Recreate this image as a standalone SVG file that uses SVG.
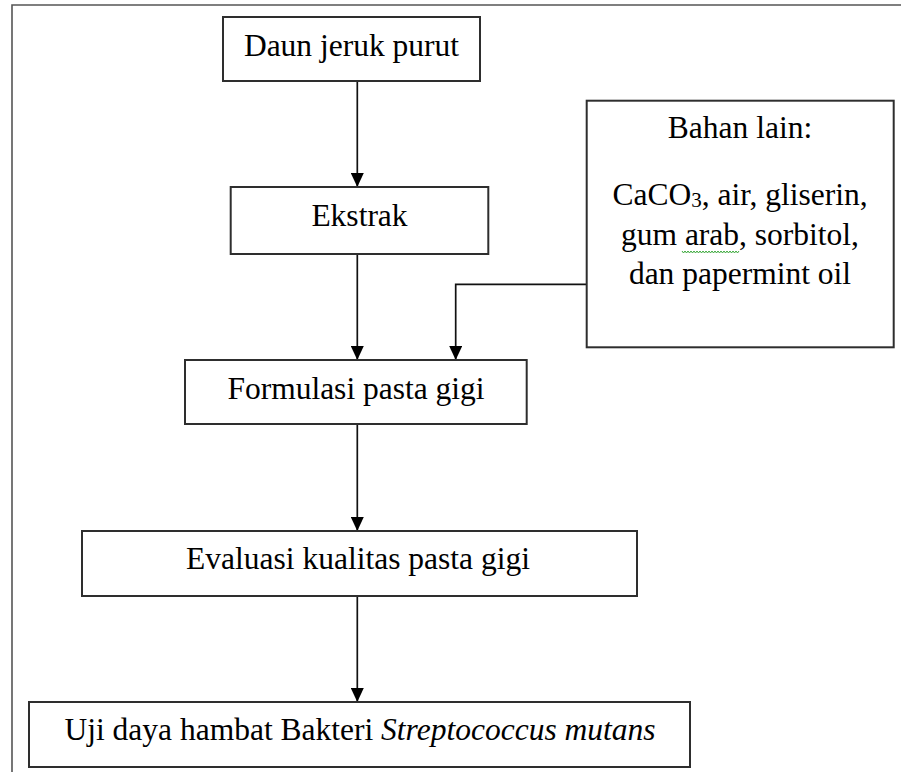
<svg xmlns="http://www.w3.org/2000/svg" width="901" height="772" viewBox="0 0 901 772">
  <style>
    .box { fill: #ffffff; stroke: #2e2e2e; stroke-width: 2; }
    .lbl { font-family: "Liberation Serif", "Times New Roman", serif; font-size: 31.5px; fill: #000000; text-anchor: middle; }
    .conn { fill: none; stroke: #111111; stroke-width: 1.7; }
    .frame { fill: none; stroke: #555555; stroke-width: 1.6; }
  </style>
  <defs>
    <marker id="arrow" markerUnits="userSpaceOnUse" viewBox="0 0 14 13" refX="14" refY="6.5" markerWidth="14" markerHeight="13" orient="auto">
      <path d="M0,0 L14,6.5 L0,13 Z" fill="#000000"/>
    </marker>
  </defs>
  <rect width="901" height="772" fill="#ffffff"/>
  <path class="frame" d="M12,772 V5 H901"/>

  <g id="connectors">
    <line class="conn" x1="357.3" y1="81" x2="357.3" y2="187" marker-end="url(#arrow)"/>
    <line class="conn" x1="357.3" y1="254" x2="357.3" y2="360" marker-end="url(#arrow)"/>
    <path class="conn" d="M586.7,284.3 H455.7 V360" marker-end="url(#arrow)"/>
    <line class="conn" x1="357.3" y1="424" x2="357.3" y2="531" marker-end="url(#arrow)"/>
    <line class="conn" x1="357.3" y1="596" x2="357.3" y2="702" marker-end="url(#arrow)"/>
  </g>

  <g id="daun">
    <rect class="box" x="223" y="17" width="257" height="64"/>
    <text class="lbl" x="351.5" y="55.5">Daun jeruk purut</text>
  </g>

  <g id="ekstrak">
    <rect class="box" x="230.7" y="187" width="257.6" height="67"/>
    <text class="lbl" x="359.5" y="225.5">Ekstrak</text>
  </g>

  <g id="bahan">
    <rect class="box" x="586.7" y="100.7" width="307" height="246.6"/>
    <text class="lbl" x="740" y="138">Bahan lain:</text>
    <text class="lbl" x="740" y="205">CaCO<tspan font-size="21" dy="2">3</tspan><tspan dy="-2">, air, gliserin,</tspan></text>
    <text class="lbl" x="740" y="244.5">gum arab, sorbitol,</text>
    <text class="lbl" x="740" y="284">dan papermint oil</text>
    <polyline fill="none" stroke="#3aa83a" stroke-width="1" points="682,251 683.5,253 685,251 686.5,253 688,251 689.5,253 691,251 692.5,253 694,251 695.5,253 697,251 698.5,253 700,251 701.5,253 703,251 704.5,253 706,251 707.5,253 709,251 710.5,253 712,251 713.5,253 715,251 716.5,253 718,251 719.5,253 721,251 722.5,253 724,251 725.5,253 727,251 728.5,253 730,251 731.5,253 733,251 734.5,253 736,251 737.5,253 739,251"/>
  </g>

  <g id="formulasi">
    <rect class="box" x="185" y="360" width="341.7" height="64"/>
    <text class="lbl" x="356" y="398.5">Formulasi pasta gigi</text>
  </g>

  <g id="evaluasi">
    <rect class="box" x="82" y="531" width="555" height="65"/>
    <text class="lbl" x="358" y="569">Evaluasi kualitas pasta gigi</text>
  </g>

  <g id="uji">
    <rect class="box" x="29" y="702" width="661" height="65"/>
    <text class="lbl" x="360" y="740">Uji daya hambat Bakteri <tspan font-style="italic">Streptococcus mutans</tspan></text>
  </g>
</svg>
